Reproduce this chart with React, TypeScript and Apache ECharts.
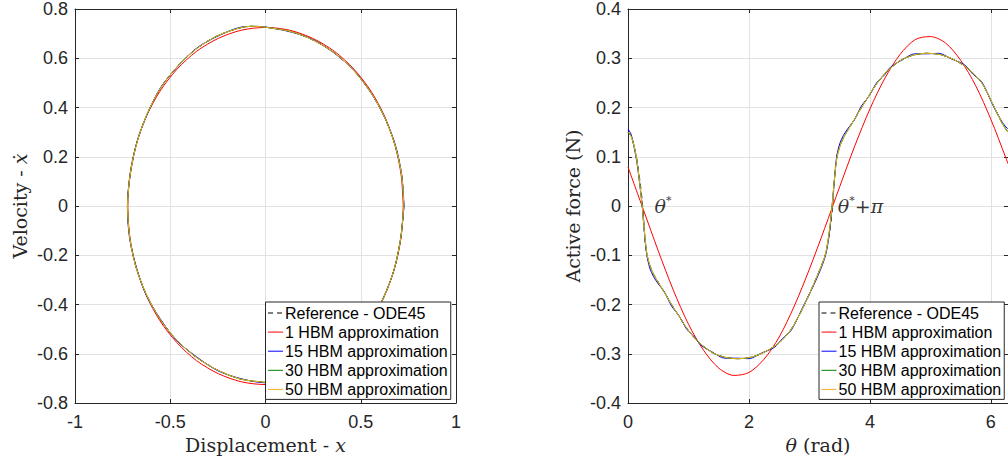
import React, { useEffect, useRef } from 'react';
import * as echarts from 'echarts';

// ---------- Left panel: phase portrait (displacement x, velocity x-dot) ----------
const phaseRed: number[][] = [
  [0.723, 0], [0.712, 0.126], [0.679, 0.248], [0.626, 0.363], [0.554, 0.466], [0.465, 0.555],
  [0.362, 0.628], [0.247, 0.681], [0.126, 0.714], [0, 0.725], [-0.126, 0.714], [-0.247, 0.681],
  [-0.362, 0.628], [-0.465, 0.555], [-0.554, 0.466], [-0.626, 0.363], [-0.679, 0.248], [-0.712, 0.126],
  [-0.723, 0], [-0.712, -0.126], [-0.679, -0.248], [-0.626, -0.363], [-0.554, -0.466], [-0.465, -0.555],
  [-0.362, -0.628], [-0.247, -0.681], [-0.126, -0.714], [0, -0.725], [0.126, -0.714], [0.247, -0.681],
  [0.362, -0.628], [0.465, -0.555], [0.554, -0.466], [0.626, -0.363], [0.679, -0.248], [0.712, -0.126],
  [0.723, 0],
];

const phaseHbm: number[][] = [
  [0.726, 0], [0.715, 0.122], [0.683, 0.24], [0.63, 0.352], [0.558, 0.455], [0.47, 0.544],
  [0.368, 0.618], [0.255, 0.672], [0.135, 0.708], [0.0, 0.726], [-0.063, 0.73], [-0.13, 0.724],
  [-0.25, 0.692], [-0.36, 0.64], [-0.46, 0.569], [-0.55, 0.48], [-0.62, 0.376], [-0.675, 0.258],
  [-0.71, 0.13], [-0.724, 0], [-0.713, -0.126], [-0.681, -0.245], [-0.628, -0.355], [-0.555, -0.458],
  [-0.465, -0.545], [-0.362, -0.615], [-0.25, -0.667], [-0.13, -0.703], [0.0, -0.716], [0.05, -0.719],
  [0.13, -0.712], [0.25, -0.683], [0.36, -0.63], [0.46, -0.56], [0.55, -0.47], [0.62, -0.372],
  [0.675, -0.258], [0.71, -0.13], [0.726, 0],
];

const phaseHbm15: number[][] = [
  [0.727, 0], [0.716, 0.12], [0.684, 0.242], [0.629, 0.354], [0.559, 0.453], [0.469, 0.546],
  [0.369, 0.616], [0.254, 0.674], [0.136, 0.706], [0.0, 0.727], [-0.063, 0.729], [-0.13, 0.726],
  [-0.25, 0.69], [-0.36, 0.642], [-0.46, 0.567], [-0.55, 0.482], [-0.62, 0.374], [-0.675, 0.26],
  [-0.71, 0.128], [-0.725, 0], [-0.714, -0.128], [-0.68, -0.243], [-0.629, -0.357], [-0.554, -0.456],
  [-0.466, -0.547], [-0.361, -0.613], [-0.25, -0.669], [-0.13, -0.701], [0.0, -0.718], [0.05, -0.718],
  [0.13, -0.714], [0.25, -0.681], [0.36, -0.632], [0.46, -0.558], [0.55, -0.472], [0.62, -0.37],
  [0.675, -0.26], [0.71, -0.128], [0.727, 0],
];

// ---------- Right panel: active force vs theta ----------
const forceRed: number[][] = [
  [0, 0.079], [0.25, -0.006], [0.5, -0.091], [0.75, -0.171], [1.0, -0.24], [1.25, -0.293],
  [1.5, -0.329], [1.75, -0.344], [2.0, -0.338], [2.25, -0.311], [2.5, -0.266], [2.75, -0.203],
  [3.0, -0.128], [3.25, -0.046], [3.5, 0.039], [3.75, 0.122], [4.0, 0.197], [4.25, 0.26],
  [4.5, 0.308], [4.75, 0.338], [5.0, 0.344], [5.25, 0.331], [5.5, 0.296], [5.75, 0.244],
  [6.0, 0.176], [6.25, 0.097], [6.283, 0.086],
];

const forceHbm: number[][] = [
  [0, 0.15], [0.05, 0.142], [0.1, 0.122], [0.15, 0.09], [0.2, 0.04], [0.235, 0.0], [0.27, -0.05],
  [0.31, -0.095], [0.36, -0.12], [0.42, -0.138], [0.5, -0.155], [0.6, -0.175], [0.72, -0.2],
  [0.85, -0.225], [0.97, -0.248], [1.1, -0.268], [1.2, -0.28], [1.4, -0.298], [1.6, -0.307],
  [1.8, -0.31], [2.0, -0.308], [2.2, -0.3], [2.42, -0.285], [2.55, -0.272], [2.7, -0.25],
  [2.9, -0.205], [3.1, -0.15], [3.26, -0.1], [3.33, -0.05], [3.375, 0.0], [3.41, 0.05],
  [3.45, 0.095], [3.5, 0.12], [3.56, 0.138], [3.64, 0.155], [3.74, 0.175], [3.86, 0.2],
  [3.99, 0.225], [4.11, 0.248], [4.24, 0.268], [4.34, 0.28], [4.54, 0.298], [4.74, 0.307],
  [4.94, 0.31], [5.14, 0.308], [5.34, 0.3], [5.56, 0.285], [5.7, 0.27], [5.85, 0.25],
  [6.04, 0.205], [6.2, 0.165], [6.283, 0.15],
];

const forceHbm15: number[][] = [
  [0, 0.156], [0.05, 0.146], [0.1, 0.12], [0.15, 0.086], [0.2, 0.038], [0.235, 0.0], [0.27, -0.052],
  [0.31, -0.098], [0.36, -0.126], [0.42, -0.143], [0.5, -0.158], [0.6, -0.174], [0.72, -0.203],
  [0.85, -0.224], [0.97, -0.25], [1.1, -0.266], [1.2, -0.282], [1.4, -0.297], [1.6, -0.309],
  [1.8, -0.309], [2.0, -0.31], [2.2, -0.299], [2.42, -0.287], [2.55, -0.27], [2.7, -0.252],
  [2.9, -0.203], [3.1, -0.153], [3.26, -0.103], [3.33, -0.055], [3.375, 0.0], [3.41, 0.048],
  [3.45, 0.1], [3.5, 0.126], [3.56, 0.143], [3.64, 0.158], [3.74, 0.174], [3.86, 0.203],
  [3.99, 0.224], [4.11, 0.25], [4.24, 0.266], [4.34, 0.282], [4.54, 0.297], [4.74, 0.309],
  [4.94, 0.309], [5.14, 0.31], [5.34, 0.299], [5.56, 0.287], [5.7, 0.268], [5.85, 0.252],
  [6.04, 0.203], [6.2, 0.168], [6.283, 0.156],
];

const forceRef: number[][] = [
  [0, 0.15], [0.05, 0.142], [0.1, 0.122], [0.15, 0.092], [0.2, 0.048], [0.235, 0.01], [0.26, -0.03],
  [0.29, -0.08], [0.33, -0.11], [0.36, -0.121], [0.42, -0.138], [0.5, -0.155], [0.6, -0.175],
  [0.72, -0.2], [0.85, -0.225], [0.97, -0.248], [1.1, -0.268], [1.2, -0.28], [1.4, -0.298],
  [1.6, -0.307], [1.8, -0.31], [2.0, -0.308], [2.2, -0.3], [2.42, -0.285], [2.55, -0.272],
  [2.7, -0.25], [2.9, -0.205], [3.1, -0.15], [3.26, -0.1], [3.33, -0.055], [3.375, -0.01],
  [3.4, 0.03], [3.43, 0.08], [3.47, 0.11], [3.5, 0.121], [3.56, 0.138], [3.64, 0.155],
  [3.74, 0.175], [3.86, 0.2], [3.99, 0.225], [4.11, 0.248], [4.24, 0.268], [4.34, 0.28],
  [4.54, 0.298], [4.74, 0.307], [4.94, 0.31], [5.14, 0.308], [5.34, 0.3], [5.56, 0.285],
  [5.7, 0.27], [5.85, 0.25], [6.04, 0.205], [6.2, 0.165], [6.283, 0.15],
];

const seriesNames = [
  'Reference - ODE45',
  '1 HBM approximation',
  '15 HBM approximation',
  '30 HBM approximation',
  '50 HBM approximation',
];
const seriesColors = ['#000000', '#ff0000', '#0000ff', '#008000', '#edb120'];

// annotation anchors [theta, force]
const annotations: number[][] = [[0.44, 0], [3.47, 0]];
const annotationTexts = ['{t|θ}{s|*}', '{t|θ}{s|*}{r|+}{t|π}'];

const AXIS_COLOR = '#262626';
const GRID_COLOR = '#e2e2e2';
const SANS = 'Liberation Sans';
const SERIF = 'DejaVu Serif';

function makeAxis(kind: 'x' | 'y', gridIndex: number, min: number, max: number, interval: number,
  main: boolean, position: string, name?: string, extra: any = {}) {
  return {
    type: 'value',
    gridIndex,
    min,
    max,
    interval,
    position,
    name: main ? name : undefined,
    nameLocation: 'middle',
    nameGap: kind === 'x' ? 30 : 46,
    nameTextStyle: {
      fontFamily: SERIF,
      fontSize: 19,
      color: AXIS_COLOR,
      rich: {
        i: { fontFamily: SERIF, fontStyle: 'italic', fontSize: 19, color: AXIS_COLOR },
      },
    },
    axisLine: { show: true, onZero: false, lineStyle: { color: AXIS_COLOR, width: 1 } },
    axisTick: { show: true, inside: true, length: 4, lineStyle: { color: AXIS_COLOR, width: 1 } },
    axisLabel: {
      show: main,
      fontFamily: SANS,
      fontSize: 18,
      color: AXIS_COLOR,
      margin: kind === 'x' ? 10 : 7,
      ...(extra.axisLabel || {}),
    },
    splitLine: { show: main, lineStyle: { color: GRID_COLOR, width: 1 } },
  };
}

function lineSeries(name: string, color: string, data: number[][], axisIdx: number, dashed = false) {
  return {
    type: 'line',
    name,
    xAxisIndex: axisIdx,
    yAxisIndex: axisIdx,
    data,
    symbol: 'none',
    smooth: 0.3,
    lineStyle: { color, width: 1, type: dashed ? [5, 4] : 'solid' },
    itemStyle: { color },
    emphasis: { disabled: true },
  };
}

function makeLegend(left: number) {
  return {
    orient: 'vertical',
    left,
    top: 302,
    data: seriesNames,
    selectedMode: false,
    itemWidth: 15,
    itemHeight: 2,
    itemGap: 3.1,
    padding: [3, 3, 2, 2],
    backgroundColor: '#ffffff',
    borderColor: AXIS_COLOR,
    borderWidth: 1,
    borderRadius: 0,
    itemStyle: { opacity: 0 },
    lineStyle: { width: 1 },
    textStyle: { fontFamily: SANS, fontSize: 16, color: '#000000', padding: [0, 0, 0, -3] },
  };
}

export default function App() {
  const ref = useRef<HTMLDivElement>(null);
  useEffect(() => {
    if (!ref.current) return;
    const chart = echarts.init(ref.current, null, { renderer: 'svg' });
    const phaseSets = [phaseHbm, phaseRed, phaseHbm15, phaseHbm, phaseHbm];
    const forceSets = [forceRef, forceRed, forceHbm15, forceHbm, forceHbm];
    const option: any = {
      animation: false,
      backgroundColor: '#ffffff',
      grid: [
        { left: 75, top: 8, width: 381, height: 395 },
        { left: 628, top: 8, width: 382, height: 395 },
      ],
      xAxis: [
        makeAxis('x', 0, -1, 1, 0.5, true, 'bottom', 'Displacement - {i|x}'),
        makeAxis('x', 0, -1, 1, 0.5, false, 'top'),
        makeAxis('x', 1, 0, 6.2832, 2, true, 'bottom', '{i|θ} (rad)', { axisLabel: { showMaxLabel: false } }),
        makeAxis('x', 1, 0, 6.2832, 2, false, 'top'),
      ],
      yAxis: [
        makeAxis('y', 0, -0.8, 0.8, 0.2, true, 'left', 'Velocity - {i|ẋ}'),
        makeAxis('y', 0, -0.8, 0.8, 0.2, false, 'right'),
        makeAxis('y', 1, -0.4, 0.4, 0.1, true, 'left', 'Active force (N)'),
        makeAxis('y', 1, -0.4, 0.4, 0.1, false, 'right'),
      ],
      legend: [makeLegend(265.5), makeLegend(819)],
      series: [
        ...seriesNames.map((n, i) => lineSeries(n, seriesColors[i], phaseSets[i], 0, i === 0)),
        ...seriesNames.map((n, i) => lineSeries(n, seriesColors[i], forceSets[i], 2, i === 0)),
        {
          type: 'scatter',
          name: 'annotations',
          xAxisIndex: 2,
          yAxisIndex: 2,
          symbolSize: 0,
          data: annotations.map((p, i) => ({
            value: p,
            label: {
              show: true,
              position: 'right',
              distance: 0,
              formatter: annotationTexts[i],
              rich: {
                t: { fontFamily: SERIF, fontStyle: 'italic', fontSize: 19, lineHeight: 22, color: '#000' },
                s: { fontFamily: SERIF, fontSize: 11, lineHeight: 11, verticalAlign: 'top', color: '#000' },
                r: { fontFamily: SERIF, fontSize: 19, lineHeight: 22, color: '#000' },
              },
            },
          })),
          emphasis: { disabled: true },
          silent: true,
        },
      ],
    };
    chart.setOption(option);
    return () => chart.dispose();
  }, []);
  return (
    <div
      ref={ref}
      style={{ position: 'absolute', left: 0, top: 0, width: 1008, height: 464, overflow: 'hidden' }}
    />
  );
}
